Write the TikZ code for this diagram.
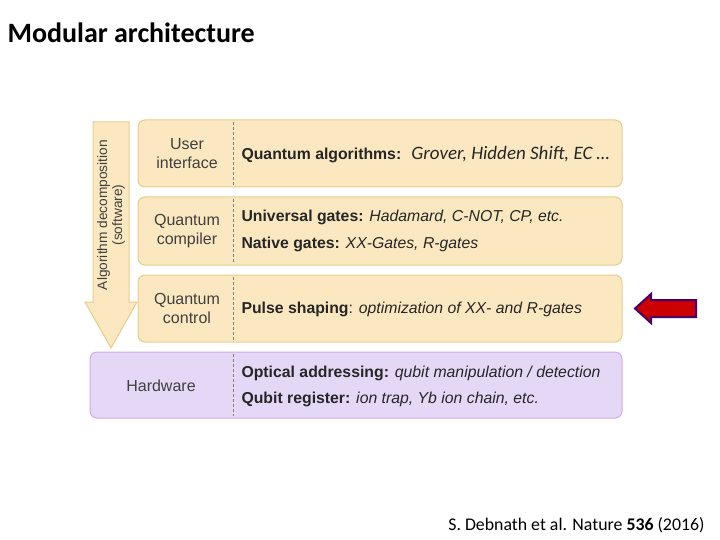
\documentclass[tikz,border=0pt]{standalone}
\usepackage{fontspec}
\setmainfont{Liberation Sans}
\newfontfamily\calfont{Carlito}
\begin{document}
\begin{tikzpicture}[x=1pt,y=-1pt,
 lab/.style={font=\fontsize{16}{19}\selectfont, align=center, text=black!75},
 txt/.style={font=\fontsize{15.8}{18}\selectfont, anchor=west, text=black!85}]
\useasboundingbox (0,0) rectangle (720,540);
\definecolor{tan}{RGB}{252,232,192}
\definecolor{tanE}{RGB}{232,204,140}
\definecolor{lav}{RGB}{228,216,246}
\definecolor{lavE}{RGB}{214,170,226}
\node[anchor=west,font=\calfont\bfseries\fontsize{28}{32}\selectfont] (title) at (4,33) {Modular architecture};
\node[anchor=east,font=\calfont\fontsize{17.8}{20}\selectfont] (cite) at (708,525) {S. Debnath et al. Nature \textbf{536} (2016)};
% arrow
\path[fill=tan,draw=tanE,line width=1pt] (93,122) -- (129,122) -- (129,302) -- (137,302) -- (111,348) -- (85,302) -- (93,302) -- cycle;
\node[rotate=90,font=\fontsize{13.7}{15}\selectfont,align=center,text=black!75] (ad) at (111,215) {Algorithm decomposition\\(software)};
% boxes
\draw[fill=tan,draw=tanE,line width=1pt,rounded corners=7pt] (138,120) rectangle (622,187);
\draw[fill=tan,draw=tanE,line width=1pt,rounded corners=7pt] (138,197) rectangle (622,265);
\draw[fill=tan,draw=tanE,line width=1pt,rounded corners=7pt] (138,275) rectangle (622,342);
\draw[fill=lav,draw=lavE,line width=1pt,rounded corners=7pt] (90,352) rectangle (622,418);
\foreach \a/\b in {122/185,199/263,277/340,354/416} \draw[densely dashed,black!50,line width=0.5pt] (233,\a) -- (233,\b);
\node[lab] (u) at (187,154) {User\\interface};
\node[lab] (c) at (187,231) {Quantum\\compiler};
\node[lab] (q) at (187,308) {Quantum\\control};
\node[lab] (h) at (161,386) {Hardware};
\node[txt] (t1) at (238,155) {\textbf{Quantum algorithms:} {\calfont\itshape\fontsize{19}{21}\selectfont\ Grover, Hidden Shift, EC \ldots}};
\node[txt] (t2) at (238,217) {\textbf{Universal gates:} \textit{Hadamard, C-NOT, CP, etc.}};
\node[txt] (t3) at (238,244) {\textbf{Native gates:} \textit{XX-Gates, R-gates}};
\node[txt] (t4) at (238,309) {\textbf{Pulse shaping}: \textit{optimization of XX- and R-gates}};
\node[txt] (t5) at (238,373) {\textbf{Optical addressing:} \textit{qubit manipulation / detection}};
\node[txt] (t6) at (238,399) {\textbf{Qubit register:} \textit{ion trap, Yb ion chain, etc.}};
% red arrow
\path[fill=red!80!black,draw=violet!80!blue!70!black,line width=2pt] (696,300) -- (651,300) -- (651,294) -- (635,308.5) -- (651,323) -- (651,317) -- (696,317) -- cycle;
\end{tikzpicture}
\end{document}
